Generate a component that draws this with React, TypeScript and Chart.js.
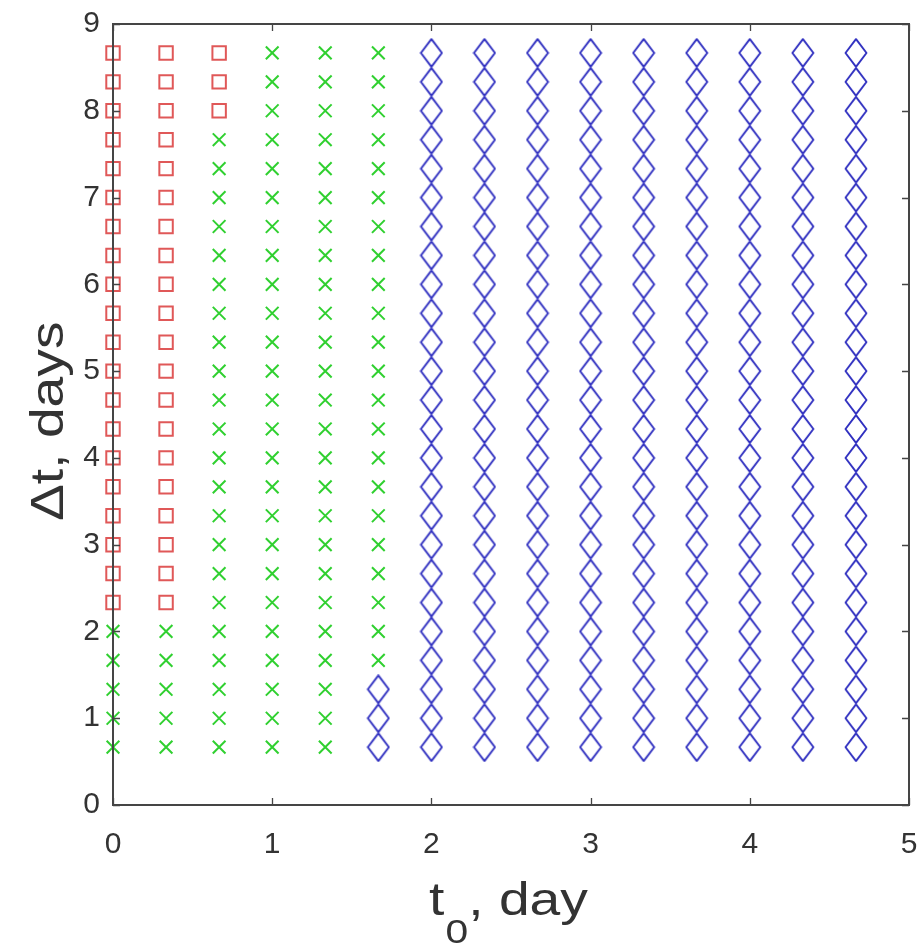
import React, { useEffect, useRef } from 'react';
import { Chart, registerables } from 'chart.js';

Chart.register(...registerables);

// t0 (day) of each column of points
const T0_COLUMNS = [0, 0.3333, 0.6667, 1, 1.3333, 1.6667, 2, 2.3333, 2.6667, 3, 3.3333, 3.6667, 4, 4.3333, 4.6667];
// Δt (days) of each row of points, bottom first
const DT_ROWS = [0.6667, 1, 1.3333, 1.6667, 2, 2.3333, 2.6667, 3, 3.3333, 3.6667, 4, 4.3333, 4.6667, 5, 5.3333, 5.6667, 6, 6.3333, 6.6667, 7, 7.3333, 7.6667, 8, 8.3333, 8.6667];
// class of each point per column (bottom row first): R = red square, G = green cross, B = blue diamond
const CLASS_BY_COLUMN = [
  'GGGGGRRRRRRRRRRRRRRRRRRRR',
  'GGGGGRRRRRRRRRRRRRRRRRRRR',
  'GGGGGGGGGGGGGGGGGGGGGGRRR',
  'GGGGGGGGGGGGGGGGGGGGGGGGG',
  'GGGGGGGGGGGGGGGGGGGGGGGGG',
  'BBBGGGGGGGGGGGGGGGGGGGGGG',
  'BBBBBBBBBBBBBBBBBBBBBBBBB',
  'BBBBBBBBBBBBBBBBBBBBBBBBB',
  'BBBBBBBBBBBBBBBBBBBBBBBBB',
  'BBBBBBBBBBBBBBBBBBBBBBBBB',
  'BBBBBBBBBBBBBBBBBBBBBBBBB',
  'BBBBBBBBBBBBBBBBBBBBBBBBB',
  'BBBBBBBBBBBBBBBBBBBBBBBBB',
  'BBBBBBBBBBBBBBBBBBBBBBBBB',
  'BBBBBBBBBBBBBBBBBBBBBBBBB',
];
const X_TICKS = [0, 1, 2, 3, 4, 5];
const Y_TICKS = [0, 1, 2, 3, 4, 5, 6, 7, 8, 9];
const X_TITLE_MAIN = 't';
const X_TITLE_SUB = '0';
const X_TITLE_REST = ', day';
const Y_TITLE = 'Δt, days';

const RED = '#e05858';
const GREEN = '#30d030';
const BLUE = '#3030c0';
const AXIS = '#454545';
const TEXT = '#333333';
const FONT = '"Liberation Sans", Arial, Helvetica, sans-serif';

function pointsOf(cls: string) {
  const pts: { x: number; y: number }[] = [];
  CLASS_BY_COLUMN.forEach((col, ci) => {
    for (let ri = 0; ri < col.length; ri++) {
      if (col[ri] === cls) pts.push({ x: T0_COLUMNS[ci], y: DT_ROWS[ri] });
    }
  });
  return pts;
}

function makeDiamond(): HTMLCanvasElement {
  const c = document.createElement('canvas');
  c.width = 24;
  c.height = 30;
  const g = c.getContext('2d')!;
  g.strokeStyle = BLUE;
  g.lineWidth = 1.9;
  g.lineJoin = 'round';
  g.beginPath();
  g.moveTo(12, 1.2);
  g.lineTo(22.5, 15);
  g.lineTo(12, 28.8);
  g.lineTo(1.5, 15);
  g.closePath();
  g.stroke();
  return c;
}

const framePlugin = {
  id: 'frame',
  afterDatasetsDraw(chart: any) {
    const { ctx, chartArea, scales } = chart;
    const { left, right, top, bottom } = chartArea;
    ctx.save();
    ctx.strokeStyle = AXIS;
    ctx.lineWidth = 2;
    ctx.strokeRect(left, top, right - left, bottom - top);
    ctx.lineWidth = 1.3;
    const tl = 7;
    ctx.beginPath();
    X_TICKS.forEach((v) => {
      const px = Math.round(scales.x.getPixelForValue(v)) + 0.5;
      ctx.moveTo(px, bottom);
      ctx.lineTo(px, bottom - tl);
      ctx.moveTo(px, top);
      ctx.lineTo(px, top + tl);
    });
    Y_TICKS.forEach((v) => {
      const py = Math.round(scales.y.getPixelForValue(v)) + 0.5;
      ctx.moveTo(left, py);
      ctx.lineTo(left + tl, py);
      ctx.moveTo(right, py);
      ctx.lineTo(right - tl, py);
    });
    ctx.stroke();
    ctx.restore();
  },
  afterDraw(chart: any) {
    const { ctx } = chart;
    const stretch = 1.2;
    ctx.save();
    ctx.fillStyle = TEXT;
    ctx.textBaseline = 'alphabetic';
    ctx.textAlign = 'left';
    // x title
    ctx.save();
    ctx.translate(429, 915);
    ctx.scale(stretch, 1);
    ctx.font = `46px ${FONT}`;
    ctx.fillText(X_TITLE_MAIN, 0, 0);
    let x = ctx.measureText(X_TITLE_MAIN).width + 1;
    ctx.font = `34px ${FONT}`;
    ctx.fillText(X_TITLE_SUB, x, 28);
    x += ctx.measureText(X_TITLE_SUB).width;
    ctx.font = `46px ${FONT}`;
    ctx.fillText(X_TITLE_REST, x, 0);
    ctx.restore();
    // y title
    ctx.save();
    ctx.translate(63, 521);
    ctx.rotate(-Math.PI / 2);
    ctx.scale(stretch, 1);
    ctx.font = `46px ${FONT}`;
    ctx.fillText(Y_TITLE, 0, 0);
    ctx.restore();
    ctx.restore();
  },
};

export default function App() {
  const ref = useRef<HTMLCanvasElement>(null);
  useEffect(() => {
    const canvas = ref.current!;
    const diamond = makeDiamond();
    const chart = new Chart(canvas, {
      type: 'scatter',
      data: {
        datasets: [
          {
            label: 'squares',
            data: pointsOf('R'),
            pointStyle: 'rect',
            pointRadius: 9.5,
            borderColor: RED,
            backgroundColor: 'rgba(0,0,0,0)',
            borderWidth: 2,
            clip: false,
          },
          {
            label: 'crosses',
            data: pointsOf('G'),
            pointStyle: 'crossRot',
            pointRadius: 9,
            borderColor: GREEN,
            backgroundColor: GREEN,
            borderWidth: 2,
            clip: false,
          },
          {
            label: 'diamonds',
            data: pointsOf('B'),
            pointStyle: diamond as any,
            pointRadius: 12,
            borderColor: BLUE,
            backgroundColor: BLUE,
            clip: false,
          },
        ],
      },
      options: {
        responsive: false,
        animation: false,
        devicePixelRatio: 1,
        layout: { padding: { left: 0, right: 13, top: 24, bottom: 0 } },
        plugins: { legend: { display: false }, tooltip: { enabled: false } },
        events: [],
        scales: {
          x: {
            type: 'linear',
            min: 0,
            max: 5,
            afterBuildTicks: (s: any) => {
              s.ticks = X_TICKS.map((v) => ({ value: v }));
            },
            afterFit: (s: any) => {
              s.height = 145;
              s.paddingLeft = 0;
              s.paddingRight = 0;
            },
            ticks: { color: TEXT, font: { family: FONT, size: 30 }, padding: 22, maxRotation: 0 },
            grid: { display: false, drawTicks: false },
            border: { display: false },
          },
          y: {
            type: 'linear',
            min: 0,
            max: 9,
            afterBuildTicks: (s: any) => {
              s.ticks = Y_TICKS.map((v) => ({ value: v }));
            },
            afterFit: (s: any) => {
              s.width = 113;
              s.paddingTop = 0;
              s.paddingBottom = 0;
            },
            ticks: { color: TEXT, font: { family: FONT, size: 30 }, padding: 13 },
            grid: { display: false, drawTicks: false },
            border: { display: false },
          },
        },
      },
      plugins: [framePlugin],
    });
    return () => chart.destroy();
  }, []);
  return (
    <div style={{ position: 'absolute', left: 0, top: 0, width: 922, height: 950, background: '#fff' }}>
      <canvas ref={ref} width={922} height={950} style={{ display: 'block' }} />
    </div>
  );
}
